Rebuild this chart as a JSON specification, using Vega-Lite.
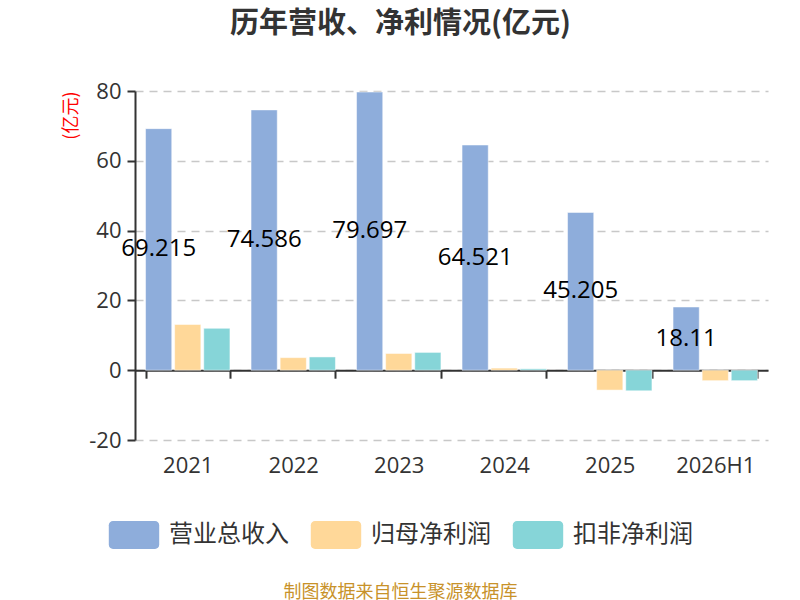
{
  "$schema": "https://vega.github.io/schema/vega-lite/v6.json",
  "width": 633,
  "height": 349,
  "autosize": {"type": "none"},
  "padding": {"left": 135, "top": 91, "right": 32, "bottom": 160},
  "background": "white",
  "config": {
    "font": "Open Sans, Noto Sans CJK SC",
    "view": {"stroke": null}
  },
  "title": {
    "text": "历年营收、净利情况(亿元)",
    "font": "Noto Sans CJK SC",
    "fontSize": 29,
    "fontWeight": "bold",
    "color": "#333333",
    "anchor": "middle",
    "frame": "group",
    "dx": -51,
    "offset": 41
  },
  "data": {
    "values": [
      {"year": "2021", "series": "营业总收入", "value": 69.215},
      {"year": "2021", "series": "归母净利润", "value": 13.1},
      {"year": "2021", "series": "扣非净利润", "value": 12.0},
      {"year": "2022", "series": "营业总收入", "value": 74.586},
      {"year": "2022", "series": "归母净利润", "value": 3.6},
      {"year": "2022", "series": "扣非净利润", "value": 3.8},
      {"year": "2023", "series": "营业总收入", "value": 79.697},
      {"year": "2023", "series": "归母净利润", "value": 4.8},
      {"year": "2023", "series": "扣非净利润", "value": 5.1},
      {"year": "2024", "series": "营业总收入", "value": 64.521},
      {"year": "2024", "series": "归母净利润", "value": 0.6},
      {"year": "2024", "series": "扣非净利润", "value": 0.4},
      {"year": "2025", "series": "营业总收入", "value": 45.205},
      {"year": "2025", "series": "归母净利润", "value": -5.7},
      {"year": "2025", "series": "扣非净利润", "value": -5.9},
      {"year": "2026H1", "series": "营业总收入", "value": 18.11},
      {"year": "2026H1", "series": "归母净利润", "value": -3.0},
      {"year": "2026H1", "series": "扣非净利润", "value": -3.0}
    ]
  },
  "encoding": {
    "x": {
      "field": "year",
      "type": "nominal",
      "sort": null,
      "scale": {"paddingInner": 0.2, "paddingOuter": 0.1},
      "axis": {
        "title": "制图数据来自恒生聚源数据库",
        "titleFont": "Noto Sans CJK SC",
        "titleColor": "#C8922A",
        "titleFontSize": 18,
        "titleFontWeight": "normal",
        "titleX": 265,
        "titlePadding": 107,
        "offset": -69.8,
        "domainColor": "#333333",
        "domainWidth": 2,
        "tickColor": "#333333",
        "tickWidth": 2,
        "tickSize": 8,
        "tickBand": "extent",
        "labelAngle": 0,
        "labelFontSize": 22,
        "labelColor": "#333333",
        "labelPadding": 77
      }
    },
    "xOffset": {
      "field": "series",
      "type": "nominal",
      "scale": {"domain": ["营业总收入", "归母净利润", "扣非净利润"], "paddingInner": 0.1, "paddingOuter": 0}
    }
  },
  "layer": [
    {
      "mark": {"type": "bar", "stroke": "white", "strokeWidth": 0.5},
      "encoding": {
        "y": {
          "field": "value",
          "type": "quantitative",
          "scale": {"domain": [-20, 80], "nice": false},
          "axis": {
            "values": [-20, 0, 20, 40, 60, 80],
            "labelExpr": "replace(datum.label, '−', '-')",
            "title": "(亿元)",
            "titleFont": "Noto Sans CJK SC",
            "titleColor": "red",
            "titleFontSize": 18,
            "titleFontWeight": "normal",
            "titleAnchor": "end",
            "titlePadding": 8,
            "domainColor": "#333333",
            "domainWidth": 2,
            "tickColor": "#333333",
            "tickWidth": 2,
            "tickSize": 8,
            "labelFontSize": 22,
            "labelColor": "#333333",
            "labelPadding": 6,
            "grid": true,
            "gridColor": "#c8c8c8",
            "gridDash": [8, 6],
            "gridWidth": 1.5
          }
        },
        "color": {
          "field": "series",
          "type": "nominal",
          "scale": {
            "domain": ["营业总收入", "归母净利润", "扣非净利润"],
            "range": ["#8EADDB", "#FFD899", "#86D5D8"]
          },
          "legend": {
            "title": null,
            "orient": "none",
            "direction": "horizontal",
            "legendX": -15,
            "legendY": 430,
            "symbolType": "M-1.5,-1 H1.5 A0.3,0.3 0 0 1 1.8,-0.7 V0.7 A0.3,0.3 0 0 1 1.5,1 H-1.5 A0.3,0.3 0 0 1 -1.8,0.7 V-0.7 A0.3,0.3 0 0 1 -1.5,-1 Z",
            "symbolSize": 784,
            "symbolStrokeWidth": 0,
            "symbolOpacity": 1,
            "labelFont": "Noto Sans CJK SC",
            "labelFontSize": 24,
            "labelColor": "#333333",
            "labelOffset": 21,
            "columnPadding": 21
          }
        }
      }
    },
    {
      "transform": [{"filter": "datum.series === '营业总收入'"}],
      "mark": {"type": "text", "fontSize": 24, "color": "black"},
      "encoding": {
        "y": {
          "field": "value",
          "type": "quantitative",
          "scale": {"domain": [-40, 160], "nice": false},
          "axis": null
        },
        "text": {"field": "value", "type": "quantitative"}
      }
    }
  ],
  "resolve": {"scale": {"y": "independent"}}
}
